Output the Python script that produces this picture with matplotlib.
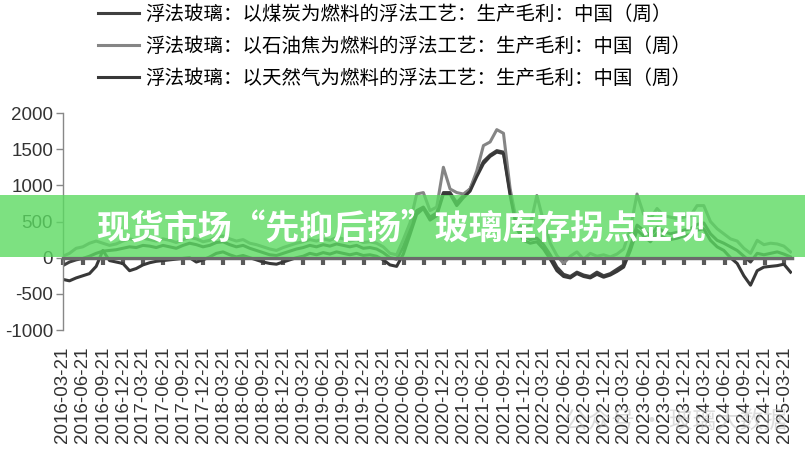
import numpy as np
import pandas as pd
import matplotlib
matplotlib.use("Agg")
import matplotlib.pyplot as plt
import matplotlib.dates as mdates
from matplotlib.patches import Rectangle

plt.rcParams['font.family'] = ['Liberation Sans', 'Noto Sans CJK SC', 'DejaVu Sans']
plt.rcParams['axes.unicode_minus'] = False

# 月度近似读数 2016-03 ~ 2025-04 (元/吨)
dates = pd.date_range('2016-03-21', '2025-04-18', periods=110)

coal = [
    -110, -60, -30, -10, 20, 60, 90, 100, 110, 130,
    150, 140, 170, 160, 140, 170, 150, 130, 170, 200,
    180, 150, 170, 210, 220, 180, 150, 170, 130, 100,
    70, 40, 30, 60, 90, 120, 140, 170, 150, 180,
    160, 190, 170, 150, 170, 130, 140, 120, 70, 0,
    -20, 150, 400, 650, 700, 560, 620, 900, 900, 760,
    860, 950, 1150, 1330, 1420, 1480, 1460, 900, 450, 300,
    250, 270, 180, 40, -130, -230, -260, -200, -240, -260,
    -200, -250, -220, -160, -100, 150, 450, 380, 300, 420,
    360, 330, 350, 380, 400, 460, 480, 330, 240, 200,
    150, 100, 20, -60, 60, 40, 60, 80, 50, 10,
]

petcoke = [
    20, 60, 130, 150, 200, 230, 200, 170, 190, 230,
    260, 240, 270, 250, 230, 260, 240, 210, 250, 280,
    260, 220, 240, 290, 300, 260, 230, 250, 200, 180,
    150, 120, 100, 140, 170, 200, 220, 250, 230, 260,
    240, 280, 260, 230, 250, 210, 220, 200, 150, 60,
    40, 250, 480, 880, 900, 650, 700, 1250, 950, 900,
    880, 950, 1200, 1550, 1600, 1770, 1720, 950, 480, 400,
    450, 860, 500, 200, 30, -80, 20, 80, -20, 60,
    20, 40, 10, 50, 120, 400, 880, 600, 540, 680,
    580, 560, 540, 560, 580, 720, 720, 500, 400, 330,
    260, 230, 130, 60, 240, 180, 200, 190, 160, 80,
]

gas = [
    -300, -320, -280, -250, -220, -120, 100, -40, -60, -80,
    -180, -150, -100, -70, -50, -40, -30, -20, -10, 0,
    -60, -30, 10, 60, 80, 40, 10, 30, 0, -30,
    -60, -80, -90, -60, -30, 0, 20, 60, 40, 70,
    50, 80, 60, 40, 60, 30, 40, 20, -30, -100,
    -120, 50, 320, 600, 680, 520, 580, 880, 880, 720,
    830, 920, 1120, 1300, 1400, 1460, 1440, 860, 400, 240,
    200, 220, 120, -20, -180, -260, -280, -220, -260, -280,
    -230, -270, -240, -190, -130, 100, 380, 300, 220, 340,
    280, 250, 270, 300, 320, 380, 400, 240, 150, 100,
    0, -80, -250, -380, -180, -130, -120, -110, -90, -200,
]

labels = [
    '浮法玻璃：以煤炭为燃料的浮法工艺：生产毛利：中国（周）',
    '浮法玻璃：以石油焦为燃料的浮法工艺：生产毛利：中国（周）',
    '浮法玻璃：以天然气为燃料的浮法工艺：生产毛利：中国（周）',
]
colors = ['#404040', '#858585', '#383838']

tick_dates = pd.date_range('2016-03-21', '2025-03-21', freq=pd.DateOffset(months=3))

fig = plt.figure(figsize=(8.05, 4.53), dpi=100)
ax = fig.add_axes([0.078, 0.2715, 0.906, 0.479])

lines = []
for series, lab, c in zip([coal, petcoke, gas], labels, colors):
    ln, = ax.plot(dates, series, color=c, lw=2.2, label=lab)
    lines.append(ln)

ax.set_ylim(-1000, 2000)
ax.set_yticks([-1000, -500, 0, 500, 1000, 1500, 2000])
ax.set_xlim(pd.Timestamp('2016-03-21'), pd.Timestamp('2025-04-25'))

# 横轴放在0值处，标签放到底部
ax.spines['top'].set_visible(False)
ax.spines['right'].set_visible(False)
ax.spines['bottom'].set_position(('data', 0))
ax.spines['bottom'].set_color('#6b6b6b')
ax.spines['bottom'].set_linewidth(2.5)
ax.spines['left'].set_color('#888888')
ax.spines['left'].set_linewidth(1)
ax.set_xticks(tick_dates)
ax.tick_params(axis='x', direction='out', length=5, width=3, color='#5a5a5a', labelbottom=False)
ax.tick_params(axis='y', direction='out', length=5, width=1, color='#888888',
               labelsize=13.5, labelcolor='#333333', pad=2)

sec = ax.secondary_xaxis('bottom')
sec.set_xticks(tick_dates)
sec.xaxis.set_major_formatter(mdates.DateFormatter('%Y-%m-%d'))
sec.tick_params(axis='x', length=0, labelsize=13.5, labelcolor='#333333', rotation=90, pad=12)
sec.spines['bottom'].set_visible(False)

fig.legend(handles=lines, labels=labels, loc='upper left', bbox_to_anchor=(0.122, 0.988),
           frameon=False, fontsize=14, handlelength=2.1, handletextpad=0.3,
           labelspacing=0.66, borderpad=0, borderaxespad=0)

# 绿色标题横幅
fig.patches.append(Rectangle((0, 0.4327), 1, 0.137, transform=fig.transFigure,
                             facecolor='#5cda62', alpha=0.8, edgecolor='none', zorder=5))
fig.text(0.12, 0.497, '现货市场“先抑后扬”玻璃库存拐点显现', color='white',
         fontsize=24.4, fontweight='bold', family=['Noto Sans CJK SC'],
         ha='left', va='center', zorder=6)

# 水印
fig.text(0.70, 0.07, '公众号 · 玻璃大数据', color='#bbbbbb', alpha=0.5,
         fontsize=17, family=['Noto Sans CJK SC'], ha='left', va='center', zorder=6)

fig.savefig('out.png', dpi=100)
